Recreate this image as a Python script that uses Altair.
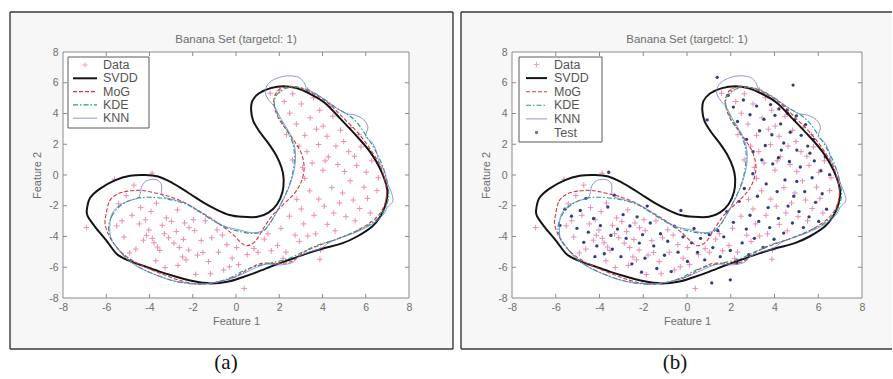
import altair as alt
import pandas as pd

# ---------------- data (feature space) ----------------
TICKS = [-8, -6, -4, -2, 0, 2, 4, 6, 8]
INNER_TICKS = [-6, -4, -2, 0, 2, 4, 6]
TITLE = "Banana Set (targetcl: 1)"
LEGEND_A = ["Data", "SVDD", "MoG", "KDE", "KNN"]
LEGEND_B = ["Data", "SVDD", "MoG", "KDE", "KNN", "Test"]

svdd_pts = [(-6.9, -2.3), (-6.75, -1.5), (-6.3, -0.9), (-5.6, -0.35), (-4.9, -0.05), (-4.2, 0.0),
            (-3.6, -0.1), (-3.1, -0.4), (-2.6, -0.8), (-2.1, -1.25), (-1.5, -1.8), (-0.9, -2.25),
            (-0.3, -2.6), (0.3, -2.72), (1.0, -2.72), (1.5, -2.45), (1.9, -1.9), (2.15, -1.1),
            (2.2, -0.2), (2.1, 0.5), (1.85, 1.3), (1.5, 2.06), (1.1, 2.8), (0.8, 3.5), (0.7, 4.2),
            (0.75, 4.8), (1.05, 5.3), (1.6, 5.65), (2.2, 5.78), (2.8, 5.65), (3.4, 5.3), (4.1, 4.7),
            (4.8, 3.7), (5.6, 2.5), (6.2, 1.5), (6.7, 0.3), (7.0, -1.0), (6.9, -2.0), (6.65, -2.75),
            (6.3, -3.35), (5.6, -4.0), (4.9, -4.45), (4.1, -4.75), (3.3, -5.1), (2.5, -5.5),
            (1.8, -5.85), (1.0, -6.3), (0.3, -6.65), (-0.4, -6.95), (-1.2, -7.05), (-2.0, -6.9),
            (-2.8, -6.6), (-3.5, -6.3), (-4.2, -5.95), (-4.9, -5.6), (-5.5, -5.15), (-6.0, -4.25),
            (-6.5, -3.4), (-6.85, -2.7)]

mog_pts = [(-6.0, -2.5), (-5.85, -1.7), (-5.5, -1.25), (-5.0, -1.05), (-4.4, -1.0), (-3.8, -1.15),
           (-3.2, -1.35), (-2.6, -1.65), (-2.0, -2.1), (-1.4, -2.6), (-0.8, -3.15), (-0.2, -3.8),
           (0.2, -4.35), (0.5, -4.6), (0.9, -4.3), (1.3, -3.4), (1.7, -2.6), (2.2, -1.9), (2.7, -1.2),
           (3.0, -0.5), (3.15, 0.4), (3.05, 1.3), (2.75, 2.1), (2.35, 2.9), (2.0, 3.6), (1.8, 4.3),
           (1.75, 4.9), (1.95, 5.5), (2.4, 5.75), (2.9, 5.7), (3.5, 5.35), (4.2, 4.75), (4.9, 3.8),
           (5.6, 2.8), (6.2, 1.7), (6.7, 0.5), (6.95, -0.8), (6.9, -1.8), (6.6, -2.6), (6.1, -3.2),
           (5.4, -3.75), (4.6, -4.2), (3.8, -4.6), (3.1, -5.05), (2.6, -5.6), (2.0, -5.75), (1.2, -5.75),
           (0.6, -6.1), (0.0, -6.6), (-0.8, -6.95), (-1.7, -7.1), (-2.5, -6.9), (-3.3, -6.5),
           (-4.1, -6.05), (-4.8, -5.55), (-5.4, -4.9), (-5.85, -4.0), (-6.05, -3.2)]

kde_pts = [(-5.9, -3.5), (-5.75, -2.7), (-5.35, -2.0), (-4.8, -1.6), (-4.2, -1.45), (-3.5, -1.5),
           (-2.9, -1.65), (-2.3, -1.9), (-1.7, -2.4), (-1.1, -2.95), (-0.5, -3.4), (0.1, -3.65),
           (0.7, -3.8), (1.2, -3.7), (1.5, -3.3), (1.8, -2.6), (2.1, -1.8), (2.4, -0.9), (2.6, 0.0),
           (2.7, 1.0), (2.65, 1.9), (2.4, 2.8), (2.05, 3.6), (1.8, 4.4), (1.8, 5.0), (2.1, 5.5),
           (2.6, 5.7), (3.2, 5.6), (3.9, 5.1), (4.6, 4.4), (5.2, 3.9), (5.6, 3.4), (6.0, 2.6),
           (6.4, 1.7), (6.8, 0.5), (7.05, -0.9), (7.0, -1.8), (6.7, -2.6), (6.2, -3.2), (5.4, -3.75),
           (4.6, -4.2), (3.8, -4.55), (3.1, -5.0), (2.4, -5.45), (1.7, -5.7), (1.0, -5.9), (0.4, -6.2),
           (-0.3, -6.7), (-1.0, -7.0), (-1.8, -7.1), (-2.7, -6.95), (-3.5, -6.6), (-4.2, -6.2),
           (-4.9, -5.6), (-5.4, -4.9), (-5.75, -4.2)]

knn_pts = [(-5.8, -2.8), (-5.5, -2.1), (-5.0, -1.7), (-4.5, -1.45), (-4.35, -0.7), (-4.1, -0.35),
           (-3.7, -0.3), (-3.45, -0.6), (-3.4, -1.35), (-2.9, -1.6), (-2.3, -1.85), (-1.7, -2.35),
           (-1.1, -2.9), (-0.5, -3.35), (0.1, -3.55), (0.7, -3.75), (1.2, -3.65), (1.5, -3.25),
           (1.85, -2.5), (2.15, -1.7), (2.45, -0.8), (2.65, 0.1), (2.75, 1.0), (2.7, 1.9), (2.45, 2.8),
           (2.1, 3.6), (1.8, 4.4), (1.5, 4.9), (1.35, 5.4), (1.5, 5.95), (1.9, 6.3), (2.4, 6.45),
           (2.9, 6.35), (3.15, 6.0), (3.3, 5.6), (3.9, 5.1), (4.6, 4.4), (5.1, 4.0), (5.5, 3.9),
           (5.9, 3.6), (6.1, 3.1), (6.0, 2.5), (6.3, 2.1), (6.5, 1.5), (6.6, 0.9), (6.85, 0.3),
           (7.0, -0.5), (7.2, -1.2), (7.25, -1.7), (7.0, -2.1), (6.8, -2.6), (6.3, -3.2), (5.5, -3.75),
           (4.8, -4.1), (4.3, -4.4), (3.9, -4.8), (3.4, -5.0), (2.9, -5.3), (2.6, -5.7), (2.0, -5.85),
           (1.4, -5.8), (0.8, -6.1), (0.2, -6.5), (-0.5, -6.85), (-1.3, -7.05), (-2.1, -7.05),
           (-3.0, -6.85), (-3.8, -6.45), (-4.5, -6.0), (-5.1, -5.4), (-5.5, -4.7), (-5.8, -4.1)]

data_pts = [
    (-6.92, -3.42), (-5.62, -0.28), (-3.88, 0.12), (-4.72, -0.66), (-5.08, -1.34), (-5.43, -1.87),
    (-5.52, -3.31), (-5.18, -4.03), (-4.81, -2.62), (-4.47, -3.18), (-4.28, -4.24), (-4.03, -3.58),
    (-4.14, -3.93), (-3.87, -4.12), (-3.79, -4.41), (-3.63, -4.69), (-3.41, -3.27), (-3.22, -2.79),
    (-2.98, -3.02), (-3.12, -4.08), (-2.87, -4.43), (-2.76, -3.68), (-2.62, -4.72), (-2.47, -5.33),
    (-2.31, -5.52), (-2.19, -4.88), (-1.97, -2.91), (-1.91, -3.62), (-1.78, -5.21), (-1.61, -4.27),
    (-1.27, -5.63), (-1.12, -4.08), (-0.88, -3.57), (-0.81, -5.02), (-0.57, -6.18), (-0.42, -4.53),
    (-0.18, -5.41), (0.03, -4.72), (0.38, -7.38), (0.52, -5.18), (0.83, -4.79), (-3.71, -5.58),
    (-3.28, -6.02), (-4.63, -4.82), (-4.92, -5.07), (-5.27, -2.98), (-4.41, -2.12), (-3.68, -1.83),
    (-2.71, -2.27), (-2.38, -3.12), (-2.17, -3.43), (-1.42, -2.98), (-3.52, -4.91), (-2.68, -5.88),
    (-1.86, -6.47), (-1.18, -6.42), (-0.31, -5.97), (0.12, -5.83), (-4.19, -2.91), (-3.93, -2.38),
    (-3.31, -3.82), (-2.43, -4.19), (-1.53, -5.04), (-0.63, -3.91),
    (1.02, -5.03), (1.31, -4.17), (1.48, -3.82), (1.63, -4.93), (1.92, -4.58), (2.08, -3.47),
    (2.31, -5.02), (2.47, -2.68), (2.73, -3.91), (2.81, -1.58), (2.93, -4.32), (3.02, -2.21),
    (3.13, -3.18), (3.18, -0.22), (3.32, -3.97), (3.41, -1.03), (3.52, 0.78), (3.61, -2.62),
    (3.68, -3.83), (3.83, -1.57), (3.91, -4.88), (4.02, 0.31), (4.08, -2.03), (4.22, -3.21),
    (4.27, 1.18), (4.43, -0.82), (4.52, -2.47), (4.58, -3.63), (4.71, 0.68), (4.78, -1.82),
    (4.93, -1.17), (5.02, 0.22), (5.08, -2.71), (5.21, 1.52), (5.28, -0.38), (5.42, -1.63),
    (5.51, -2.98), (5.58, 0.62), (5.72, -2.18), (5.78, 1.83), (5.92, -0.79), (6.02, 0.18),
    (6.08, -1.52), (6.21, -2.47), (6.28, 0.92), (6.52, -1.02), (6.58, -0.18), (3.88, -5.48),
    (2.18, -5.42),
    (1.58, 5.32), (2.02, 5.47), (2.23, 4.78), (2.48, 4.02), (2.79, 3.31), (3.02, 4.62), (3.18, 2.58),
    (3.43, 3.72), (3.58, 5.02), (3.82, 1.98), (3.87, 4.21), (4.03, 3.18), (4.21, 2.52), (4.48, 3.82),
    (4.62, 1.88), (4.83, 2.91), (4.98, 2.18), (5.31, 3.08), (5.48, 1.22), (3.28, 1.52), (2.91, 1.88),
    (3.08, 0.48), (4.12, 0.92), (5.68, 2.62), (4.38, 4.48), (2.62, 5.28), (3.31, 5.52), (2.33, 2.62),
    (2.61, 0.98), (3.72, 2.98)]

test_pts = [
    (-5.81, -3.28), (-5.58, -2.22), (-5.03, -3.47), (-4.88, -2.31), (-4.72, -4.38), (-4.51, -3.72),
    (-4.27, -2.83), (-4.12, -4.61), (-3.96, -3.29), (-3.78, -5.12), (-3.62, -2.08), (-3.48, -3.93),
    (-3.41, -4.82), (-3.18, -3.52), (-3.02, -5.31), (-2.92, -2.58), (-2.78, -4.12), (-2.61, -3.31),
    (-2.52, -5.78), (-2.28, -2.72), (-2.18, -4.43), (-2.03, -3.88), (-1.92, -5.41), (-1.68, -3.12),
    (-1.52, -4.61), (-1.38, -6.08), (-1.21, -3.82), (-1.03, -5.22), (-0.88, -4.31), (-0.72, -6.28),
    (-0.58, -3.32), (-0.41, -5.02), (-0.28, -2.31), (-0.18, -4.02), (0.02, -5.62), (0.21, -4.41),
    (0.32, -3.48), (0.48, -5.03), (0.62, -4.12), (0.81, -5.52), (1.02, -3.88), (1.18, -4.72),
    (1.13, -7.02), (1.98, -6.82), (-3.58, 0.18), (-4.62, -1.52), (-5.28, -2.68), (-3.32, -1.31),
    (-1.82, -2.02), (-4.21, -5.31), (-2.08, -6.32),
    (1.41, -3.62), (1.52, -5.31), (1.68, -4.02), (1.82, -2.38), (1.98, -4.91), (2.12, -3.08),
    (2.28, -5.72), (2.38, -1.71), (2.52, -4.42), (2.62, -0.88), (2.71, -3.52), (2.82, -5.18),
    (2.88, -2.62), (3.01, 0.08), (3.08, -4.12), (3.22, -1.38), (3.28, -3.02), (3.42, 0.98),
    (3.48, -4.71), (3.62, -0.58), (3.71, -2.12), (3.78, -3.42), (3.92, 0.72), (3.98, -4.18),
    (4.12, -1.08), (4.18, -2.82), (4.31, 1.62), (4.42, -3.78), (4.48, -0.32), (4.62, -2.02),
    (4.68, 0.88), (4.82, -3.12), (4.88, -1.38), (5.02, -0.42), (5.12, -2.38), (5.18, 0.52),
    (5.32, -3.42), (5.38, -1.08), (5.52, 1.88), (5.58, -2.72), (5.72, -0.18), (5.82, 0.92),
    (5.88, -1.78), (6.02, -3.02), (6.12, 0.28), (6.18, -1.22), (6.32, 1.18), (6.38, -2.22),
    (6.52, 0.02),
    (4.85, 5.85), (1.38, 6.35), (1.88, 5.18), (2.12, 4.42), (2.31, 3.48), (2.58, 4.88), (2.72, 2.32),
    (2.88, 3.92), (3.02, 1.52), (3.18, 4.48), (3.32, 2.88), (3.52, 3.62), (3.58, 1.92), (3.82, 4.58),
    (3.88, 2.62), (4.02, 3.88), (4.18, 1.12), (4.28, 3.32), (4.42, 2.08), (4.58, 4.22), (4.72, 2.78),
    (4.92, 3.58), (5.02, 1.62), (5.22, 2.58), (5.42, 3.28), (5.62, 1.42), (5.78, 2.32), (0.92, 3.58),
    (4.2, 4.3), (4.6, 4.0), (5.0, 3.85)]

# ---------------- styling ----------------
FONT = "Liberation Sans"
GREY = "#6e6e6e"
FRAME = "#8a8a8a"
PINK = "#e77aa8"
NAVY = "#27347c"
H = 246
PLUS = "M-1,0L1,0M0,-1L0,1"

STYLES = {
    "SVDD": dict(color="#141414", strokeWidth=2.0),
    "MoG": dict(color="#d9343c", strokeWidth=1.1, strokeDash=[4, 2]),
    "KDE": dict(color="#19a27c", strokeWidth=1.1, strokeDash=[5, 2, 1.5, 2]),
    "KNN": dict(color="#7079d8", strokeWidth=0.8),
}
CONTOURS = {"SVDD": svdd_pts, "MoG": mog_pts, "KDE": kde_pts, "KNN": knn_pts}

sx = alt.Scale(domain=[-8, 8], nice=False, zero=False)
sy = alt.Scale(domain=[-8, 8], nice=False, zero=False)
xaxis = alt.Axis(values=TICKS, title="Feature 1", grid=False, ticks=False, domain=False, zindex=2,
                 labelFont=FONT, labelFontSize=10.5, labelColor=GREY, labelPadding=4,
                 labelFlush=False, labelOverlap=False, labelExpr="'' + datum.value",
                 titleFont=FONT, titleFontSize=11, titleFontWeight="normal", titleColor=GREY,
                 titlePadding=3)
yaxis = alt.Axis(values=TICKS, title="Feature 2", grid=False, ticks=False, domain=False, zindex=2,
                 labelFont=FONT, labelFontSize=10.5, labelColor=GREY, labelPadding=5,
                 labelFlush=False, labelOverlap=False, labelExpr="'' + datum.value",
                 titleFont=FONT, titleFontSize=11, titleFontWeight="normal", titleColor=GREY,
                 titlePadding=6)
X = alt.X("x:Q", scale=sx, axis=xaxis)
Y = alt.Y("y:Q", scale=sy, axis=yaxis)

one = pd.DataFrame({"k": [0]})


def pts_df(pts):
    return pd.DataFrame({"x": [p[0] for p in pts], "y": [p[1] for p in pts]})


def panel(W, caption, with_test, entries, box_l, box_r, right_edge, leg, canvas):
    layers = []
    if canvas:
        layers.append(alt.Chart(one).mark_rect(fill="white").encode(
            x=alt.value(-63), x2=alt.value(830), y=alt.value(-52), y2=alt.value(327)))
    # figure box
    layers.append(alt.Chart(one).mark_rect(fill="#f7f7f7").encode(
        x=alt.value(box_l), x2=alt.value(box_r), y=alt.value(-40), y2=alt.value(297)))
    for (a, b, c, d) in [(box_l, box_r, -40, -40), (box_l, box_r, 297, 297), (box_l, box_l, -40, 297)] + \
            ([(box_r, box_r, -40, 297)] if right_edge else []):
        layers.append(alt.Chart(one).mark_rule(color="#3a3a3a", strokeWidth=1.4).encode(
            x=alt.value(a), x2=alt.value(b), y=alt.value(c), y2=alt.value(d)))
    # plot area
    layers.append(alt.Chart(one).mark_rect(fill="white").encode(
        x=alt.value(0), x2=alt.value(W), y=alt.value(0), y2=alt.value(H)))
    # inner ticks on all four sides
    tdf = pd.DataFrame({"x": INNER_TICKS, "y": INNER_TICKS})
    tick = dict(color=FRAME, strokeWidth=1)
    layers += [
        alt.Chart(tdf).mark_rule(**tick).encode(x=X, y=alt.value(H), y2=alt.value(H - 4)),
        alt.Chart(tdf).mark_rule(**tick).encode(x=X, y=alt.value(0), y2=alt.value(4)),
        alt.Chart(tdf).mark_rule(**tick).encode(y=Y, x=alt.value(0), x2=alt.value(4)),
        alt.Chart(tdf).mark_rule(**tick).encode(y=Y, x=alt.value(W), x2=alt.value(W - 4)),
    ]
    # data
    layers.append(alt.Chart(pts_df(data_pts)).mark_point(
        shape=PLUS, filled=False, color=PINK, strokeWidth=1, size=32, opacity=0.85).encode(x=X, y=Y))
    if with_test:
        layers.append(alt.Chart(pts_df(test_pts)).mark_circle(
            color=NAVY, size=11, opacity=0.95).encode(x=X, y=Y))
    # contours
    for name in ["SVDD", "MoG", "KDE", "KNN"]:
        pts = CONTOURS[name]
        df = pts_df(pts)
        df["i"] = range(len(pts))
        layers.append(alt.Chart(df).mark_line(interpolate="cardinal-closed", **STYLES[name]).encode(
            x=X, y=Y, order=alt.Order("i:Q")))
    # frame
    layers.append(alt.Chart(one).mark_rect(fill="white", fillOpacity=0, stroke=FRAME, strokeWidth=1).encode(
        x=alt.value(0), x2=alt.value(W), y=alt.value(0), y2=alt.value(H)))
    # legend
    lx0, lx1, ly0, ly1, y0, step, s0, s1, tx = leg
    layers.append(alt.Chart(one).mark_rect(fill="white", stroke="#5a5a5a", strokeWidth=1).encode(
        x=alt.value(lx0), x2=alt.value(lx1), y=alt.value(ly0), y2=alt.value(ly1)))
    ldf = pd.DataFrame({"label": entries, "py": [y0 + k * step for k in range(len(entries))]})
    layers.append(alt.Chart(ldf).mark_text(align="left", baseline="middle", font=FONT,
                                           fontSize=12.5, color="#555555").encode(
        x=alt.value(tx), y=alt.Y("py:Q", scale=None), text="label:N"))
    for k, name in enumerate(entries):
        py = y0 + k * step
        if name in STYLES:
            layers.append(alt.Chart(one).mark_rule(**STYLES[name]).encode(
                x=alt.value(s0), x2=alt.value(s1), y=alt.value(py)))
        elif name == "Data":
            layers.append(alt.Chart(one).mark_point(shape=PLUS, filled=False, color=PINK,
                                                    strokeWidth=1, size=30).encode(
                x=alt.value((s0 + s1) / 2), y=alt.value(py)))
        else:
            layers.append(alt.Chart(one).mark_circle(color=NAVY, size=11).encode(
                x=alt.value((s0 + s1) / 2), y=alt.value(py)))
    # title and caption
    layers.append(alt.Chart(one).mark_text(text=TITLE, font=FONT, fontSize=11.5, color=GREY,
                                           baseline="middle").encode(
        x=alt.value(W / 2), y=alt.value(-12)))
    layers.append(alt.Chart(one).mark_text(text=caption, font="Liberation Serif", fontSize=21,
                                           color="#111111", baseline="middle").encode(
        x=alt.value(163), y=alt.value(311)))
    return alt.layer(*layers).properties(width=W, height=H)


pa = panel(346, "(a)", False, LEGEND_A, -53, 390, True,
           (5, 86, 5, 76, 13, 13.3, 10, 34, 40), True)
pb = panel(350, "(b)", True, LEGEND_B, -51, 380, False,
           (7, 90, 5, 90, 12.5, 13.6, 14, 35, 42), False)

chart = alt.hconcat(pa, pb, spacing=103, bounds="flush").properties(
    padding=0, autosize=alt.AutoSizeParams(type="pad")
).configure_view(strokeWidth=0)

chart.save("out.html", embed_options={"renderer": "svg", "actions": False})
